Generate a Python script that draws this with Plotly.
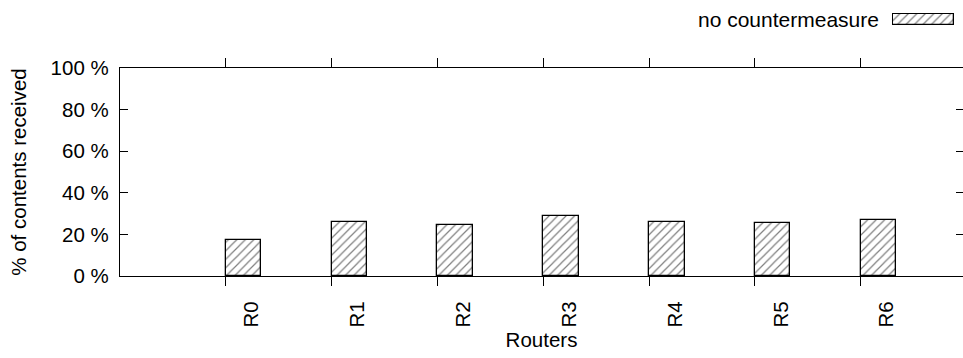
import plotly.graph_objects as go

# ---- data ----
routers = ["R0", "R1", "R2", "R3", "R4", "R5", "R6"]
received = [17.1, 26.1, 24.5, 28.7, 26.1, 25.6, 26.8]
series_name = "no countermeasure"
y_ticks = [0, 20, 40, 60, 80, 100]
y_tick_labels = ["0 %", "20 %", "40 %", "60 %", "80 %", "100 %"]
x_title = "Routers"
y_title = "% of contents received"

# ---- layout constants ----
FONT = "Liberation Sans, Arial, Helvetica, sans-serif"
W, H = 963, 358
ML, MB, MT, MR = 120, 82, 12, 0
paper_w = W - ML - MR
paper_h = H - MB - MT
plot_h = 208
main_top = plot_h / paper_h

def px_x(px):
    return (px - ML) / paper_w

def px_y(py):
    return (H - MB - py) / paper_h

bar_width = 0.335
x_pos = list(range(len(routers)))

pattern = dict(shape="/", size=6, solidity=0.2, fgcolor="black",
               bgcolor="white", fillmode="overlay")
marker = dict(color="white", line=dict(color="black", width=1.3), pattern=pattern)

fig = go.Figure()
fig.add_trace(go.Bar(x=x_pos, y=received, width=bar_width, offset=0,
                     marker=marker, showlegend=False, hoverinfo="skip",
                     xaxis="x", yaxis="y"))
# empty trace so the mirrored right-side tick axis is drawn
fig.add_trace(go.Scatter(x=[None], y=[None], xaxis="x", yaxis="y2",
                         showlegend=False, hoverinfo="skip"))
# legend key
fig.add_trace(go.Bar(x=[0], y=[1], width=1, marker=marker, showlegend=False,
                     hoverinfo="skip", xaxis="x2", yaxis="y3"))

tick_font = dict(family=FONT, size=20.5, color="black")

fig.update_layout(
    width=W, height=H,
    margin=dict(l=ML, r=MR, t=MT, b=MB, pad=0),
    paper_bgcolor="white", plot_bgcolor="white",
    font=dict(family=FONT, size=20.5, color="black"),
    bargap=0,
    xaxis=dict(
        domain=[0, 1], anchor="y", range=[-1, 6.967], automargin=False,
        tickmode="array", tickvals=x_pos, ticktext=routers,
        tickangle=-90, ticks="outside", ticklen=9, tickwidth=1.2,
        tickcolor="black", ticklabelshift=26, ticklabelstandoff=7,
        showline=True, linecolor="black", linewidth=1.3, mirror="ticks",
        showgrid=False, zeroline=False, tickfont=tick_font,
        title=dict(text=x_title, font=tick_font, standoff=6),
    ),
    yaxis=dict(
        domain=[0, main_top], anchor="x", range=[0, 100], automargin=False,
        tickmode="array", tickvals=y_ticks, ticktext=y_tick_labels,
        ticks="inside", ticklen=8, tickwidth=1.2, tickcolor="black",
        ticklabelstandoff=6,
        showline=True, linecolor="black", linewidth=1.3, mirror=False,
        showgrid=False, zeroline=False, tickfont=tick_font,
        title=dict(text=y_title, font=tick_font, standoff=18),
    ),
    yaxis2=dict(
        overlaying="y", side="right", anchor="x", range=[0, 100],
        automargin=False,
        tickmode="array", tickvals=y_ticks, ticks="inside", ticklen=7,
        tickwidth=1.2, tickcolor="black", showticklabels=False,
        showline=False, showgrid=False, zeroline=False,
    ),
    xaxis2=dict(domain=[px_x(892), px_x(955)], anchor="y3",
                range=[-0.52, 0.52], visible=False),
    yaxis3=dict(domain=[px_y(26), px_y(13)], anchor="x2",
                range=[-0.1, 1.1], visible=False),
    annotations=[dict(
        text=series_name, xref="paper", yref="paper",
        x=px_x(881), y=px_y(20), xanchor="right", yanchor="middle",
        showarrow=False, font=dict(family=FONT, size=21, color="black"),
    )],
)

fig.write_html("out.html")
